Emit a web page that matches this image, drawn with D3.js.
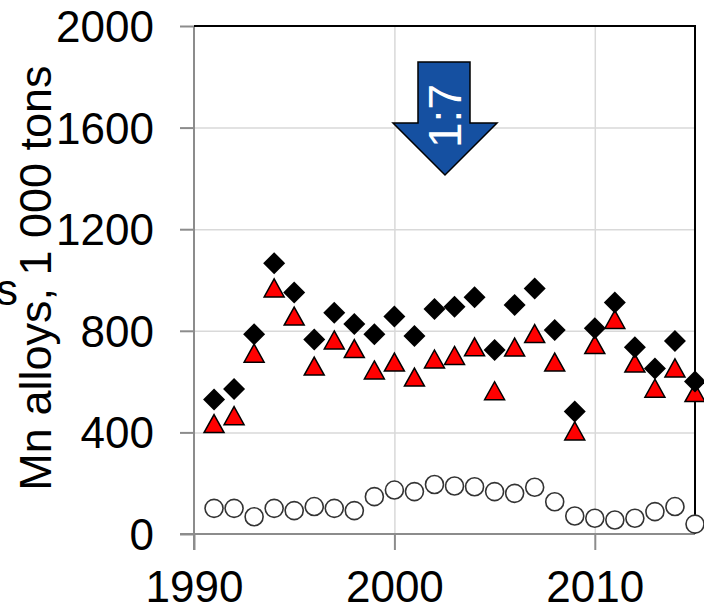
<!DOCTYPE html>
<html>
<head>
<meta charset="utf-8">
<script src="https://cdn.jsdelivr.net/npm/d3@7"></script>
<style>
  body { margin: 0; background: #fff; }
  svg { display: block; font-family: "Liberation Sans", Arial, sans-serif; }
</style>
</head>
<body>
<div id="chart"></div>
<script>
// years 1991..2015
const years = d3.range(1991, 2016);
const diamonds = [530, 571, 786, 1066, 951, 766, 871, 827, 786, 856, 780, 886,
                  895, 932, 724, 902, 967, 803, 482, 810, 911, 735, 652, 760, 600];
const triangles = [433, 464, 710, 967, 856, 659, 762, 728, 644, 675, 616, 687,
                   701, 735, 562, 734, 787, 675, 404, 744, 843, 671, 572, 652, 555];
const circles = [101, 101, 68, 101, 92, 108, 101, 92, 147, 173, 167, 195,
                 189, 186, 167, 160, 184, 127, 71, 62, 55, 62, 88, 108, 39];
const yTicks = [0, 400, 800, 1200, 1600, 2000];
const xTicks = [1990, 2000, 2010];
const yTitle = "Mn alloys, 1 000 tons";
const arrowLabel = "1:7";

const W = 704, H = 608;
const pL = 194, pR = 695, pT = 26, pB = 534;

const svg = d3.select("#chart").append("svg")
    .attr("width", W).attr("height", H);

const x = d3.scaleLinear().domain([1990, 2015]).range([pL, pR]);
const y = d3.scaleLinear().domain([0, 2000]).range([pB, pT]);

// grid lines
svg.append("g")
    .attr("transform", `translate(${pL},0)`)
    .call(d3.axisLeft(y).tickValues(yTicks.slice(1, -1)).tickSize(-(pR - pL)).tickFormat(""))
    .call(g => g.select(".domain").remove())
    .selectAll("line").attr("stroke", "#d9d9d9").attr("stroke-width", 1.5);

svg.append("g")
    .attr("transform", `translate(0,${pB})`)
    .call(d3.axisBottom(x).tickValues(xTicks.slice(1)).tickSize(-(pB - pT)).tickFormat(""))
    .call(g => g.select(".domain").remove())
    .selectAll("line").attr("stroke", "#d9d9d9").attr("stroke-width", 1.5);

// y axis
const yAxis = svg.append("g")
    .attr("transform", `translate(${pL},0)`)
    .call(d3.axisLeft(y).tickValues(yTicks).tickSize(14).tickSizeOuter(0)
        .tickPadding(26).tickFormat(d3.format("d")));
yAxis.select(".domain").attr("stroke", "#8c8c8c").attr("stroke-width", 2)
    .attr("d", `M0,${pT}V${pB + 16}`);
yAxis.selectAll(".tick line").attr("stroke", "#8c8c8c").attr("stroke-width", 2);
yAxis.selectAll(".tick text")
    .attr("font-size", 44).attr("fill", "#000")
    .attr("font-family", "Liberation Sans, Arial, sans-serif")
    .attr("dy", "0.35em");

// x axis
const xAxis = svg.append("g")
    .attr("transform", `translate(0,${pB})`)
    .call(d3.axisBottom(x).tickValues(xTicks).tickSize(16).tickSizeOuter(0).tickFormat(d3.format("d")));
xAxis.select(".domain").attr("stroke", "#8c8c8c").attr("stroke-width", 2)
    .attr("d", `M${pL - 14},0H${pR}`);
xAxis.selectAll(".tick line").attr("stroke", "#8c8c8c").attr("stroke-width", 2);
xAxis.selectAll(".tick text")
    .attr("font-size", 44).attr("fill", "#000")
    .attr("font-family", "Liberation Sans, Arial, sans-serif")
    .attr("y", 68).attr("dy", 0);

// top and right frame
svg.append("path")
    .attr("d", `M${pL},${pT}H${pR}V${pB}`)
    .attr("fill", "none").attr("stroke", "#000").attr("stroke-width", 2);

// y title
svg.append("text")
    .attr("transform", `translate(51,278) rotate(-90)`)
    .attr("text-anchor", "middle")
    .attr("font-size", 45)
    .text(yTitle);

// clipped fragment of another label at the left edge
svg.append("text")
    .attr("x", 18).attr("y", 305)
    .attr("text-anchor", "end")
    .attr("font-size", 44)
    .text("s");

// markers
const data = years.map((yr, i) => ({ yr, d: diamonds[i], t: triangles[i], c: circles[i] }));

svg.append("g").selectAll("circle")
    .data(data).enter().append("circle")
    .attr("cx", d => x(d.yr)).attr("cy", d => y(d.c))
    .attr("r", 9)
    .attr("fill", "#fff").attr("stroke", "#333").attr("stroke-width", 1.6);

svg.append("g").selectAll("path")
    .data(data).enter().append("path")
    .attr("transform", d => `translate(${x(d.yr)},${y(d.t)})`)
    .attr("d", "M0,-9.5L10,8.5L-10,8.5Z")
    .attr("fill", "#ff0000").attr("stroke", "#000").attr("stroke-width", 1.5);

svg.append("g").selectAll("path")
    .data(data).enter().append("path")
    .attr("transform", d => `translate(${x(d.yr)},${y(d.d)})`)
    .attr("d", "M0,-11L11,0L0,11L-11,0Z")
    .attr("fill", "#000");

// arrow
svg.append("path")
    .attr("d", "M418,62H470V123H497L445,175L393,123H418Z")
    .attr("fill", "#1550a1").attr("stroke", "#000").attr("stroke-width", 1.5);

svg.append("text")
    .attr("transform", "translate(461,116) rotate(-90)")
    .attr("text-anchor", "middle")
    .attr("font-size", 46)
    .attr("fill", "#fff")
    .text(arrowLabel);
</script>
</body>
</html>
